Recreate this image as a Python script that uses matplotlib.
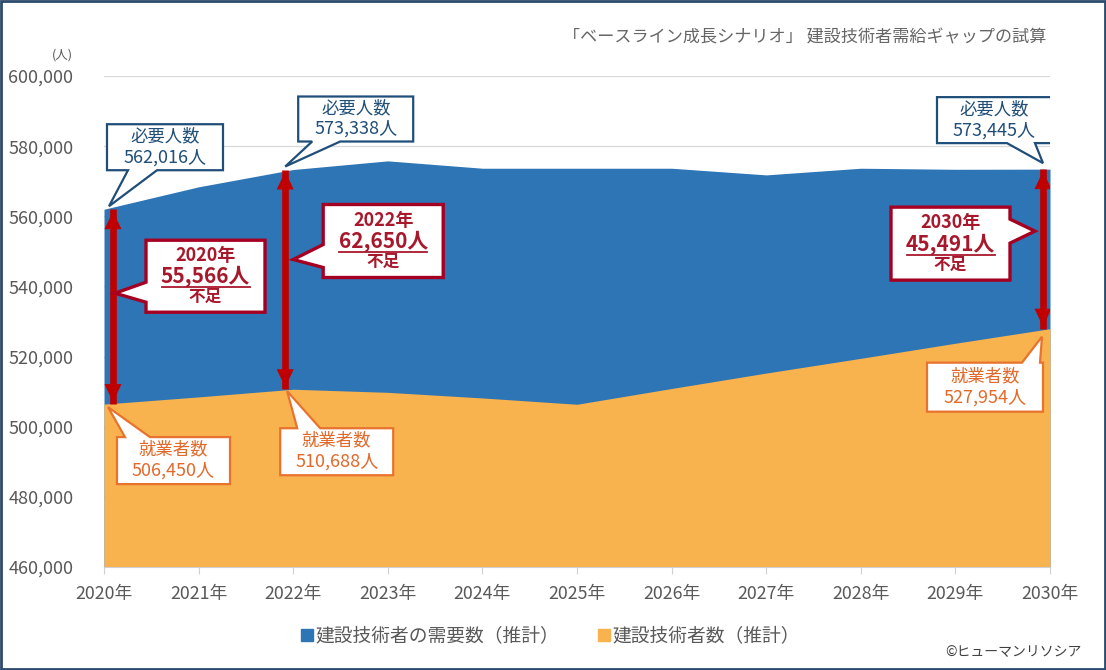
import matplotlib
matplotlib.use('Agg')
import matplotlib.pyplot as plt
from matplotlib.transforms import ScaledTranslation
from matplotlib.patches import Polygon, Rectangle
from matplotlib.lines import Line2D
from matplotlib.ticker import FuncFormatter

plt.rcParams['font.family'] = ['Noto Sans CJK JP', 'DejaVu Sans']

# ---------------- data ----------------
years = [2020, 2021, 2022, 2023, 2024, 2025, 2026, 2027, 2028, 2029, 2030]
year_labels = [f"{y}年" for y in years]
demand = [562016, 568400, 573338, 575800, 573700, 573700, 573700, 571800, 573700, 573400, 573445]
supply = [506450, 508500, 510688, 509800, 508200, 506400, 510900, 515300, 519500, 523800, 527954]
series_names = ["建設技術者の需要数（推計）", "建設技術者数（推計）"]
title = "「ベースライン成長シナリオ」 建設技術者需給ギャップの試算"
highlight_years = [2020, 2022, 2030]
y_min, y_max, y_step = 460000, 600000, 20000

BLUE = '#2E75B6'
ORANGE = '#F8B24E'
RED = '#C00000'
RED_TXT = '#A8182C'
NAVY = '#1F4E79'
ORANGE_EDGE = '#E8732E'
ORANGE_TXT = '#E2692A'
GRAY = '#595959'

fig = plt.figure(figsize=(11.06, 6.70), dpi=100)
W, H = 1106, 670
ax = fig.add_axes([104 / W, 1 - 567 / H, (1050 - 104) / W, (567 - 76) / H])

ax.fill_between(years, y_min, demand, color=BLUE, lw=0, zorder=2, label=series_names[0])
ax.fill_between(years, y_min, supply, color=ORANGE, lw=0, zorder=3, label=series_names[1])

ax.set_xlim(years[0], years[-1])
ax.set_ylim(y_min, y_max)
ax.set_yticks(range(y_min, y_max + 1, y_step))
ax.yaxis.set_major_formatter(FuncFormatter(lambda v, p: f"{int(v):,}"))
ax.set_xticks(years)
ax.set_xticklabels(year_labels)
ax.grid(axis='y', color='#D9D9D9', lw=0.9, zorder=1)
ax.set_axisbelow(True)
for s in ['left', 'right', 'top']:
    ax.spines[s].set_visible(False)
ax.spines['bottom'].set_color('#D0D0D0')
ax.spines['bottom'].set_zorder(4)
ax.tick_params(axis='y', length=0, pad=22, labelsize=13, labelcolor=GRAY)
ax.tick_params(axis='x', length=5, width=0.8, color='#D0D0D0', pad=8, labelsize=12.8, labelcolor=GRAY)

fig.text(62 / W, 1 - 55 / H, "(人)", ha='center', va='center', fontsize=9, color=GRAY)
fig.text(1046 / W, 1 - 37 / H, title, ha='right', va='center', fontsize=12.3, color='#666666')


def anchor_trans(x, y):
    return fig.dpi_scale_trans + ScaledTranslation(x, y, ax.transData)


def callout(xd, yd, box, side, base, tip, ec, lw=1.6):
    """box=(l, t, r, b) pixel offsets (right, down) from the data anchor."""
    l, t, r, b = box
    a, c = base
    if side == 'bottom':
        pts = [(l, b), (a, b), tip, (c, b), (r, b), (r, t), (l, t)]
    elif side == 'top':
        pts = [(l, b), (r, b), (r, t), (c, t), tip, (a, t), (l, t)]
    elif side == 'left':
        pts = [(l, b), (r, b), (r, t), (l, t), (l, a), tip, (l, c)]
    else:  # right
        pts = [(l, b), (r, b), (r, c), tip, (r, a), (r, t), (l, t)]
    verts = [(px / 100, -py / 100) for px, py in pts]
    poly = Polygon(verts, closed=True, transform=anchor_trans(xd, yd),
                   facecolor='white', edgecolor=ec, lw=lw, zorder=6, joinstyle='miter')
    ax.add_patch(poly)
    return anchor_trans(xd, yd), ((l + r) / 2, (t + b) / 2)


def put_text(tr, cx, cy, s, **kw):
    ax.text(cx / 100, -cy / 100, s, transform=tr, ha='center', va='center', zorder=7, **kw)


idx = [years.index(y) for y in highlight_years]

# demand callouts (blue)
blue_boxes = [
    ((3, -85, 119, -39), (24, 53), (5, -3)),
    ((5, -73, 120, -28), (19, 47), (-8, -3)),
    ((-113, -72, 2, -26), (-43, -15), (-7, -6)),
]
for i, (box, base, tip) in zip(idx, blue_boxes):
    tr, (cx, cy) = callout(years[i], demand[i], box, 'bottom', base, tip, NAVY)
    put_text(tr, cx, cy - 11, "必要人数", fontsize=12.5, color=NAVY)
    put_text(tr, cx, cy + 10, f"{demand[i]:,}人", fontsize=13, color=NAVY)

# supply callouts (orange)
orange_boxes = [
    ((13, 33, 126, 80), (21, 46), (4, 3)),
    ((-13, 39, 100, 86), (4, 27), (-6, 2)),
    ((-123, 34, -7, 83), (-28, -10), (-8, 8)),
]
for i, (box, base, tip) in zip(idx, orange_boxes):
    tr, (cx, cy) = callout(years[i], supply[i], box, 'top', base, tip, ORANGE_EDGE)
    put_text(tr, cx, cy - 11, "就業者数", fontsize=12.5, color=ORANGE_TXT)
    put_text(tr, cx, cy + 10, f"{supply[i]:,}人", fontsize=13, color=ORANGE_TXT)

# gap arrows: shaft + two filled heads
arrow_dx = [9, -8, -7]
HL, HW = 18, 8.5  # head length / half width in pixels
for i, dx in zip(idx, arrow_dx):
    tr = ax.transData + ScaledTranslation(dx / 100, 0, fig.dpi_scale_trans)
    ax.add_line(Line2D([years[i], years[i]], [demand[i], supply[i]], transform=tr,
                       color=RED, lw=4.8, solid_capstyle='butt', zorder=5))
    top_tr = anchor_trans(years[i], demand[i])
    bot_tr = anchor_trans(years[i], supply[i])
    top = [(dx, 2), (dx - HW, 2 + HL), (dx + HW, 2 + HL)]
    bot = [(dx, -2), (dx - HW, -2 - HL), (dx + HW, -2 - HL)]
    ax.add_patch(Polygon([(p / 100, -q / 100) for p, q in top], closed=True,
                         transform=top_tr, facecolor=RED, lw=0, zorder=5))
    ax.add_patch(Polygon([(p / 100, -q / 100) for p, q in bot], closed=True,
                         transform=bot_tr, facecolor=RED, lw=0, zorder=5))

# gap callouts (red)
red_boxes = [
    ((42, 31, 161, 103), 'left', (73, 93), (11, 84)),
    ((30, 35, 150, 108), 'left', (75, 98), (0, 90)),
    ((-159, 38, -40, 111), 'right', (50, 74), (-15, 62)),
]
for i, (box, side, base, tip) in zip(idx, red_boxes):
    tr, (cx, cy) = callout(years[i], demand[i], box, side, base, tip, '#A50021', lw=2.4)
    gap = demand[i] - supply[i]
    put_text(tr, cx, cy - 21, f"{years[i]}年", fontsize=13, color=RED_TXT, fontweight='bold')
    put_text(tr, cx, cy + 0, f"{gap:,}人", fontsize=15, color=RED_TXT, fontweight='bold')
    put_text(tr, cx, cy + 21, "不足", fontsize=12, color=RED_TXT, fontweight='bold')
    ax.add_line(Line2D([(cx - 44) / 100, (cx + 44) / 100], [-(cy + 11) / 100, -(cy + 11) / 100],
                       transform=tr, color=RED_TXT, lw=1.3, zorder=7))

# legend
handles = [Line2D([], [], marker='s', ls='none', markersize=9, color=BLUE),
           Line2D([], [], marker='s', ls='none', markersize=9, color=ORANGE)]
fig.legend(handles, series_names, loc='center', bbox_to_anchor=(550 / W, 1 - 636 / H),
           ncol=2, frameon=False, fontsize=13.5, labelcolor=GRAY, handletextpad=0.05,
           columnspacing=2.0, handlelength=0.8)

fig.text(1082 / W, 1 - 652 / H, "©ヒューマンリソシア", ha='right', va='center', fontsize=10, color='#404040')

fig.add_artist(Rectangle((0.001, 0.0015), 0.998, 0.997, transform=fig.transFigure,
                         fill=False, edgecolor='#2B4A6B', lw=2))

fig.savefig('out.png', dpi=100)
